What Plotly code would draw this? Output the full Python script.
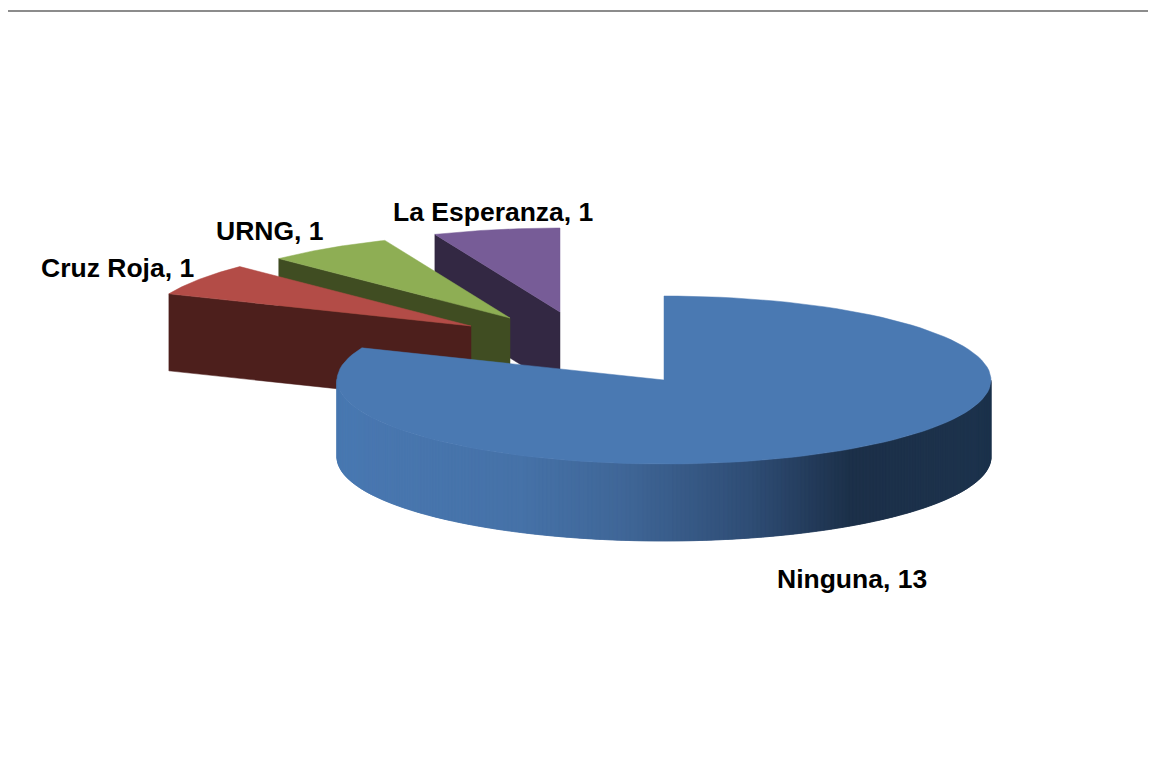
import numpy as np
import plotly.graph_objects as go

# data
labels = ["Ninguna", "Cruz Roja", "URNG", "La Esperanza"]
values = [13, 1, 1, 1]

# styling
top_colors = ["#4a79b2", "#b34c47", "#8eae54", "#775c97"]
face_colors = ["#1e3550", "#4d1f1c", "#404d22", "#332843"]
# where the point of each slice sits after being pulled out (pixels)
apex_x = [664, 471, 510, 560]
apex_y = [380, 326, 318, 312]
label_x = [852, 117, 270, 493]
label_y = [579, 268, 231, 212]

RX = 327
RY = 84
DEPTH = 77
W = 1156
H = 757
BODY_MARGIN = 8  # the page body keeps its default margin

wall_x = [337, 520, 620, 750, 850, 991]
wall_rgb = [(74, 121, 178), (70, 114, 168), (64, 103, 152), (47, 77, 117), (28, 48, 73), (30, 52, 78)]


def rim(cx, cy, start, end, n=60):
    a = np.radians(np.linspace(start, end, n))
    return cx + RX * np.sin(a), cy - RY * np.cos(a)


def wall_color(x):
    rgb = [np.interp(x, wall_x, [c[i] for c in wall_rgb]) for i in range(3)]
    return "rgb(%d,%d,%d)" % tuple(rgb)


def poly(xs, ys, color):
    return go.Scatter(
        x=list(xs) + [xs[0]],
        y=list(ys) + [ys[0]],
        mode="lines",
        fill="toself",
        fillcolor=color,
        line=dict(color=color, width=0.5),
        hoverinfo="skip",
        showlegend=False,
    )


fig = go.Figure()

bounds = np.cumsum([0] + values) / sum(values) * 360

# painted back to front, the big slice comes last
for i in reversed(range(len(values))):
    start, end = bounds[i], bounds[i + 1]
    cx, cy = apex_x[i], apex_y[i]

    if i > 0:
        # cut face of the pulled out slices
        ex, ey = rim(cx, cy, start, start, 1)
        fig.add_trace(poly(
            [ex[0], cx, cx, ex[0]],
            [ey[0], cy, cy + DEPTH, ey[0] + DEPTH],
            face_colors[i],
        ))

    # outer wall, only the front half of the pie shows it
    lo, hi = max(start, 90), min(end, 270)
    if hi > lo:
        edges = np.linspace(lo, hi, 241)
        step = edges[1] - edges[0]
        # each strip runs under the next one so no seams show
        for a0 in edges[:-1]:
            xs, ys = rim(cx, cy, a0, a0 + step * 2, 4)
            fig.add_trace(poly(
                list(xs) + list(xs[::-1]),
                list(ys) + list(ys[::-1] + DEPTH),
                wall_color(xs.mean()),
            ))

    xs, ys = rim(cx, cy, start, end, 120)
    fig.add_trace(poly([cx] + list(xs), [cy] + list(ys), top_colors[i]))

for name, val, x, y in zip(labels, values, label_x, label_y):
    fig.add_annotation(
        x=x, y=y,
        text="<b>%s, %d</b>" % (name, val),
        showarrow=False,
        xanchor="center",
        yanchor="middle",
        font=dict(family="Liberation Sans, Arial", size=26.5, color="#000000"),
    )

# grey frame of the pasted picture, only top and left show
fig.add_shape(
    type="path",
    path=f"M 6 {H} L 6 11 L {W} 11",
    line=dict(color="#8c8c8c", width=2),
    xref="x", yref="y",
)

fig.update_layout(
    width=W - BODY_MARGIN,
    height=H - BODY_MARGIN,
    margin=dict(l=0, r=0, t=0, b=0),
    paper_bgcolor="white",
    plot_bgcolor="white",
    showlegend=False,
    xaxis=dict(range=[BODY_MARGIN, W], visible=False, fixedrange=True),
    yaxis=dict(range=[H, BODY_MARGIN], visible=False, fixedrange=True),
)

fig.write_html("out.html")
